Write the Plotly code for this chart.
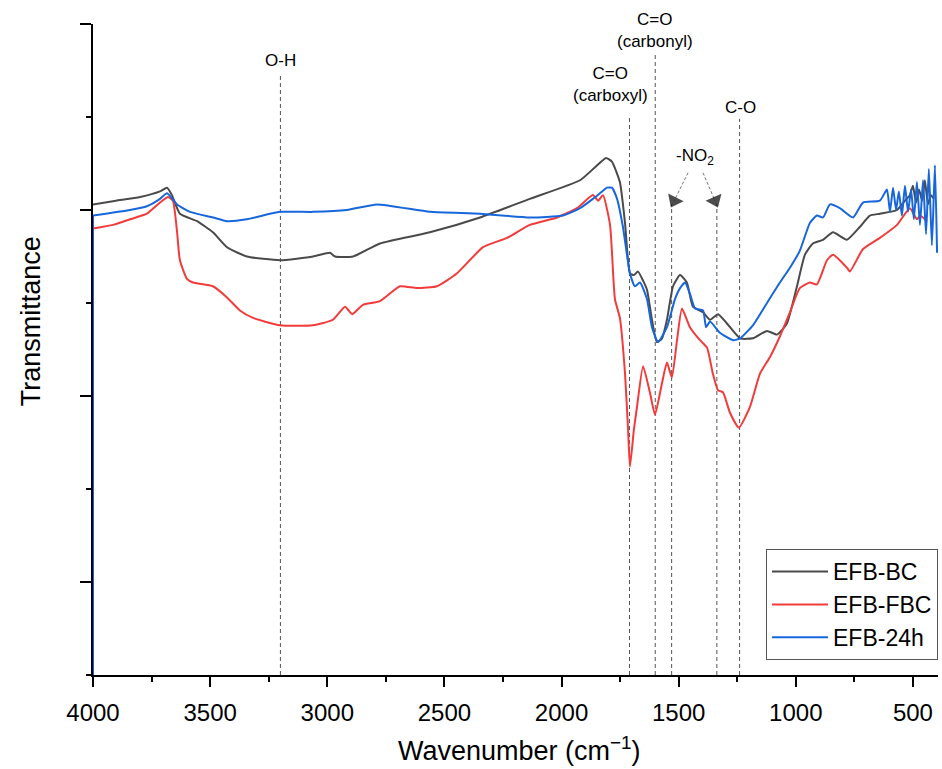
import plotly.graph_objects as go

# ---------------- data (wavenumber in cm^-1, transmittance in arbitrary units) ----------------
bc_wn = [4000, 3902, 3799, 3714, 3684, 3663, 3629, 3556, 3488, 3428, 3343, 3202, 3061, 2988, 2967,
         2890, 2775, 2562, 2348, 2135, 1921, 1857, 1810, 1785, 1751, 1729, 1708, 1691, 1674, 1652,
         1635, 1614, 1593, 1571, 1550, 1524, 1494, 1465, 1439, 1396, 1366, 1332, 1294, 1238, 1183,
         1123, 1080, 1038, 995, 961, 927, 884, 841, 782, 726, 684, 641, 568, 534, 513, 500, 487,
         474, 461, 449, 436, 423, 410]
bc_t = [25.3, 25.5, 25.7, 26.0, 26.2, 25.8, 24.8, 24.4, 23.8, 23.0, 22.5, 22.3, 22.5, 22.7, 22.5,
        22.5, 23.2, 23.8, 24.6, 25.6, 26.6, 27.3, 27.8, 27.6, 26.5, 24.3, 21.6, 21.5, 21.7, 21.2,
        20.7, 19.1, 17.9, 18.1, 19.1, 20.9, 21.5, 21.1, 19.8, 19.5, 19.1, 19.4, 18.9, 18.1, 18.1,
        18.5, 18.3, 18.9, 20.9, 22.6, 23.2, 23.4, 23.8, 23.4, 24.1, 24.7, 24.8, 25.0, 25.5, 25.8,
        26.3, 25.4, 26.1, 25.5, 26.6, 25.3, 25.8, 25.6]

fbc_wn = [4000, 3915, 3842, 3770, 3714, 3680, 3659, 3641, 3629, 3599, 3573, 3488, 3428, 3373, 3317,
          3202, 3061, 2976, 2924, 2894, 2848, 2775, 2690, 2617, 2532, 2446, 2335, 2233, 2135, 2019,
          1934, 1866, 1844, 1823, 1793, 1772, 1751, 1729, 1716, 1708, 1691, 1678, 1652, 1623, 1601,
          1571, 1550, 1529, 1507, 1486, 1452, 1409, 1379, 1354, 1332, 1311, 1281, 1243, 1196, 1153,
          1110, 1068, 1025, 983, 940, 910, 867, 841, 782, 769, 713, 641, 568, 513, 483, 470, 440]
fbc_t = [24.0, 24.2, 24.5, 24.8, 25.4, 25.7, 25.5, 23.8, 22.3, 21.3, 21.1, 20.9, 20.3, 19.6, 19.2,
         18.8, 18.8, 19.1, 19.8, 19.4, 19.9, 20.1, 20.9, 20.8, 20.9, 21.6, 23.0, 23.5, 24.2, 24.6,
         25.1, 25.8, 25.5, 25.8, 24.2, 20.2, 19.2, 16.2, 13.2, 11.2, 13.2, 14.4, 16.6, 15.2, 14.0,
         15.7, 16.8, 16.0, 18.0, 19.7, 18.7, 18.0, 17.6, 16.2, 15.3, 15.2, 14.1, 13.3, 14.4, 16.2,
         17.1, 18.2, 19.5, 20.8, 21.1, 21.0, 22.3, 22.6, 21.9, 21.7, 22.9, 23.5, 24.2, 25.1, 24.5,
         24.7, 24.4]

h24_wn = [4000, 4000, 3842, 3770, 3714, 3684, 3641, 3586, 3488, 3428, 3343, 3202, 3061, 2916, 2788,
          2562, 2348, 2135, 1994, 1921, 1866, 1836, 1806, 1785, 1763, 1738, 1708, 1687, 1665, 1635,
          1614, 1588, 1550, 1516, 1494, 1473, 1452, 1430, 1396, 1383, 1366, 1324, 1268, 1238, 1183,
          1123, 1068, 1025, 983, 940, 910, 884, 854, 812, 756, 713, 641, 611, 598, 585, 572, 560,
          547, 534, 521, 508, 496, 483, 470, 457, 444, 432, 419, 406, 397]
h24_t = [0.0, 24.7, 25.0, 25.2, 25.6, 25.9, 25.3, 24.9, 24.6, 24.4, 24.5, 24.9, 24.9, 25.0, 25.3,
         24.9, 24.8, 24.6, 24.7, 25.1, 25.6, 25.9, 26.2, 26.2, 25.6, 24.1, 21.6, 20.9, 21.1, 20.2,
         18.7, 17.9, 18.7, 20.2, 20.8, 21.1, 20.5, 19.7, 19.6, 18.7, 19.0, 18.4, 18.0, 18.1, 18.8,
         20.0, 21.1, 21.9, 22.8, 24.3, 24.7, 24.6, 25.3, 25.1, 24.6, 25.4, 25.5, 26.1, 24.9, 26.2,
         25.0, 26.0, 24.7, 26.3, 24.9, 26.1, 24.5, 26.5, 24.2, 26.6, 23.7, 27.2, 23.1, 27.4, 22.7]

series_names = ["EFB-BC", "EFB-FBC", "EFB-24h"]
series_colors = ["#4a4a4a", "#f23c3c", "#1766dc"]

# band markers: (wavenumber, top of dashed line)
band_wn = [3200, 1710, 1600, 1530, 1337, 1240]
band_top = [32.3, 30.0, 33.4, 25.3, 25.3, 29.9]

# -NO2 arrows: tail -> head (wavenumber, transmittance)
arrow_wn = [[1460, 1519], [1396, 1345]]
arrow_t = [[27.0, 25.5], [27.0, 25.5]]

x_ticks = [4000, 3500, 3000, 2500, 2000, 1500, 1000, 500]

fig = go.Figure()
all_wn = [bc_wn, fbc_wn, h24_wn]
all_t = [bc_t, fbc_t, h24_t]
for wn, t, name, col in zip(all_wn, all_t, series_names, series_colors):
    # leading vertical jump (if any) drawn straight, rest smoothed
    start = 1 if (len(wn) > 1 and wn[0] == wn[1]) else 0
    if start:
        fig.add_trace(go.Scatter(x=wn[:2], y=t[:2], mode="lines", showlegend=False,
                                 hoverinfo="skip", line=dict(color=col, width=2)))
    fig.add_trace(go.Scatter(x=wn[start:], y=t[start:], mode="lines", name=name,
                             line=dict(color=col, width=2, shape="spline", smoothing=0.5)))

for wn, top in zip(band_wn, band_top):
    fig.add_shape(type="line", xref="x", yref="y", x0=wn, x1=wn, y0=0, y1=top,
                  line=dict(color="#555555", width=1, dash="4px,3px"), layer="below")

for aw, at in zip(arrow_wn, arrow_t):
    fig.add_trace(go.Scatter(x=aw, y=at, mode="lines+markers", showlegend=False, hoverinfo="skip",
                             line=dict(color="#777777", width=1, dash="3px,2px"),
                             marker=dict(symbol=["circle", "triangle-up"], size=[0, 15],
                                         color="black", angleref="previous", line=dict(width=0))))

ann_font = dict(family="Arial, Liberation Sans, sans-serif", size=17, color="black")
labels = [
    (3200, 32.4, "O-H"),
    (1600, 33.45, "C=O<br>(carbonyl)"),
    (1793, 30.55, "C=O<br>(carboxyl)"),
    (1238, 29.9, "C-O"),
    (1432, 27.15, "-NO<sub>2</sub>"),
]
for x, y, txt in labels:
    fig.add_annotation(x=x, y=y, text=txt, showarrow=False, xanchor="center", yanchor="bottom",
                       font=ann_font)

title_font = dict(family="Arial, Liberation Sans, sans-serif", size=27, color="black")
fig.add_annotation(xref="paper", yref="paper", x=0.505, y=-0.113, text="Wavenumber (cm<sup>−1</sup>)",
                   showarrow=False, font=title_font, xanchor="center", yanchor="middle")
fig.add_annotation(xref="paper", yref="paper", x=-0.074, y=0.544, text="Transmittance",
                   showarrow=False, font=title_font, textangle=-90, xanchor="center", yanchor="middle")

fig.update_layout(
    width=942, height=769,
    margin=dict(l=93, r=4, t=24, b=94),
    paper_bgcolor="white", plot_bgcolor="white",
    font=dict(family="Arial, Liberation Sans, sans-serif", color="black"),
    showlegend=True,
    legend=dict(x=1.0, xanchor="right", y=0.023, yanchor="bottom",
                bgcolor="white", bordercolor="#555555", borderwidth=1,
                font=dict(size=23, family="Arial, Liberation Sans, sans-serif"),
                itemwidth=56, tracegroupgap=0),
    xaxis=dict(range=[4000, 393], tickvals=x_ticks, ticks="outside", ticklen=10, tickwidth=2,
               tickcolor="black", showline=True, linecolor="black", linewidth=2,
               showgrid=False, zeroline=False, tickfont=dict(size=24), ticklabelstandoff=5,
               minor=dict(dtick=250, ticks="outside", ticklen=5, tickwidth=2, tickcolor="black")),
    yaxis=dict(range=[0, 35], tick0=5, dtick=10, ticks="outside", ticklen=11, tickwidth=2,
               tickcolor="black", showline=True, linecolor="black", linewidth=2,
               showgrid=False, zeroline=False, showticklabels=False, layer="below traces",
               minor=dict(tick0=0, dtick=5, ticks="outside", ticklen=5, tickwidth=2, tickcolor="black")),
)

fig.write_html("out.html", config={"displayModeBar": False},
               post_script="document.body.style.margin='0px';")
